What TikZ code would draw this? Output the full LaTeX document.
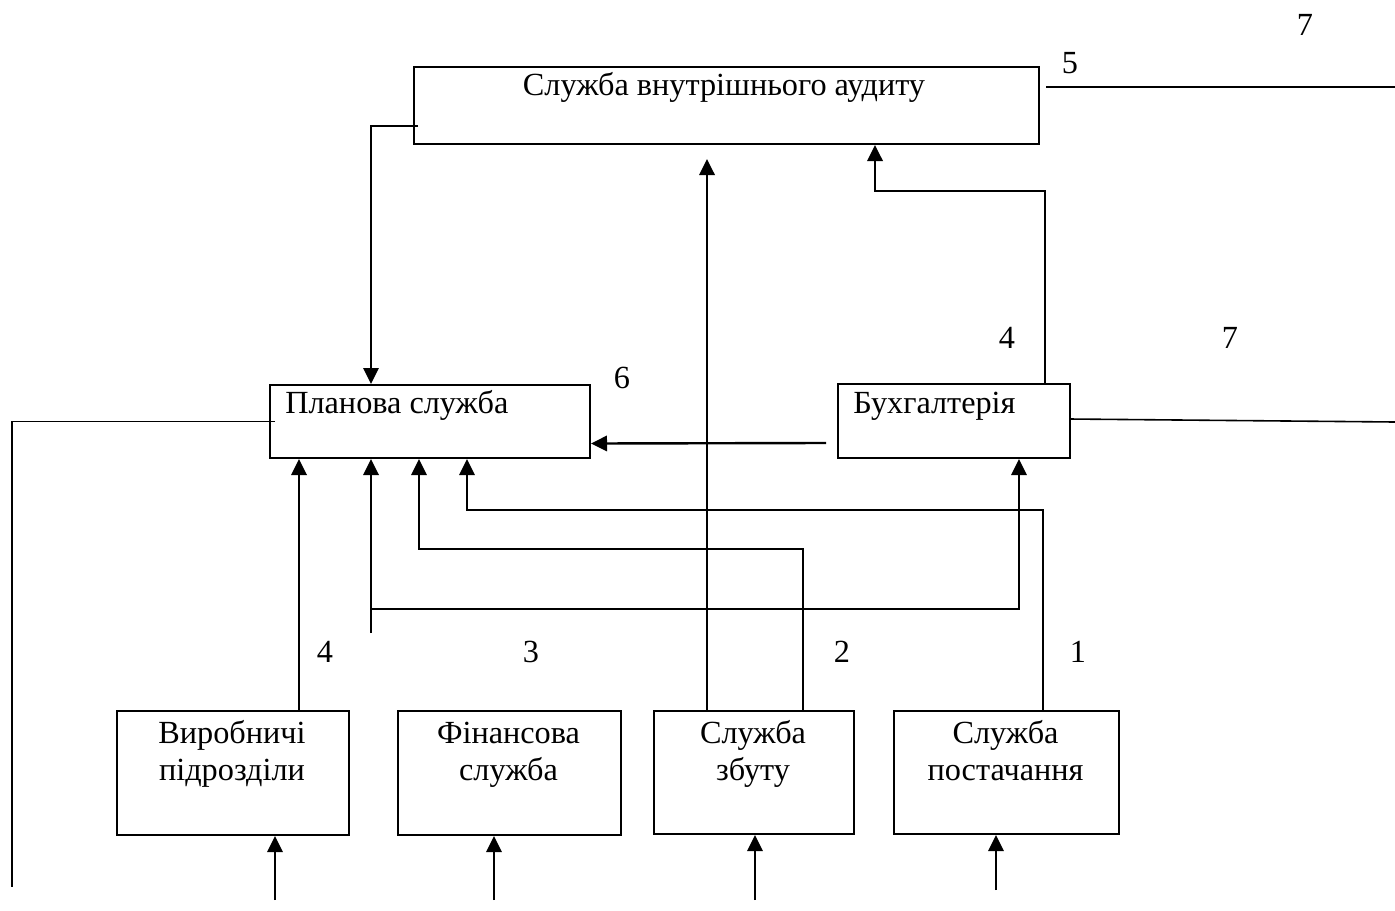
\documentclass[tikz,border=0pt]{standalone}
\usepackage{fontspec}
\setmainfont{Liberation Serif}
\usetikzlibrary{arrows.meta,calc}

\begin{document}
\begin{tikzpicture}[x=0.75pt,y=-0.75pt,
  box/.style={draw, line width=1.5pt, inner sep=0pt, anchor=north west},
  lbl/.style={font=\fontsize{24.2}{28}\selectfont, inner sep=0pt},
  num/.style={font=\fontsize{24.2}{28}\selectfont, inner sep=0pt, anchor=center},
  arr/.style={line width=1.8pt, -{Triangle[length=12pt,width=11.5pt]}},
  arrm/.style={line width=1.5pt, -{Triangle[length=12pt,width=11.5pt]}},
  ln/.style={line width=1.2pt},
]
\useasboundingbox (0,0) rectangle (1395,910);

% free line ends
\coordinate (e5) at (1395,87);
\coordinate (e7) at (1395,422);
\coordinate (cL) at (12,887);
\coordinate (c3) at (371,633);

% boxes
\node[box, minimum width={625*0.75pt}, minimum height={77*0.75pt}] (audit) at (413,66) {};
\node[box, minimum width={320*0.75pt}, minimum height={73*0.75pt}] (plan) at (269,384) {};
\node[box, minimum width={232*0.75pt}, minimum height={74*0.75pt}] (buh) at (837,383) {};
\node[box, minimum width={232*0.75pt}, minimum height={124*0.75pt}] (vyr) at (116,710) {};
\node[box, minimum width={223*0.75pt}, minimum height={124*0.75pt}] (fin) at (397,710) {};
\node[box, minimum width={200*0.75pt}, minimum height={123*0.75pt}] (zbut) at (653,710) {};
\node[box, minimum width={225*0.75pt}, minimum height={123*0.75pt}] (post) at (893,710) {};

% box texts
\newcommand\tallstrut{\vphantom{Фб}}
\node[lbl, anchor=base] (auditT) at (724,95) {Служба внутрішнього аудиту};
\node[lbl, anchor=base west] (planT) at (285,413) {Планова служба};
\node[lbl, anchor=base west] (buhT) at (853,413) {Бухгалтерія};
\node[lbl, align=center, anchor=north] (vyrT) at (232,720) {\tallstrut Виробничі\\підрозділи};
\node[lbl, align=center, anchor=north] (finT) at (508.5,720) {\tallstrut Фінансова\\служба};
\node[lbl, align=center, anchor=north] (zbutT) at (753,720) {\tallstrut Служба\\збуту};
\node[lbl, align=center, anchor=north] (postT) at (1005.5,720) {\tallstrut Служба\\постачання};

% numbers
\node[num] (n7a) at (1305,25) {7};
\node[num] (n5) at (1070,63) {5};
\node[num] (n4a) at (1007,338) {4};
\node[num] (n7b) at (1230,338) {7};
\node[num] (n6) at (622,378) {6};
\node[num] (n4b) at (325,652) {4};
\node[num] (n3) at (531,652) {3};
\node[num] (n2) at (842,652) {2};
\node[num] (n1) at (1078,652) {1};

% connectors
\draw[arrm] ($(audit.south west)+(5,-19)$) -| ($(plan.north west)+(102,0)$);
\draw[ln] ($(audit.north east)+(6,21)$) -- (e5);
\draw[ln] ($(buh.east)+(-2,-2)$) -- (e7);
\draw[arr] ($(buh.north east)+(-26,0)$) |- ($(audit.south west)+(462,46)$) -- ($(audit.south west)+(462,0)$);
\draw[arr] ($(zbut.north west)+(54,0)$) -- ($(audit.south west)+(294,14)$);
\draw[arr] ($(buh.west)+(-11,22)$) -- ($(plan.east)+(0,22)$);
\draw[arr] ($(vyr.north west)+(183,0)$) -- ($(plan.south west)+(30,0)$);
\draw[arr] (c3) -- ($(plan.south west)+(102,0)$);
\draw[arrm] ($(plan.south west)+(102,150)$) -| ($(buh.south west)+(182,0)$);
\draw[arrm] ($(zbut.north west)+(150,0)$) |- ($(plan.south west)+(150,90)$) -- ($(plan.south west)+(150,0)$);
\draw[arrm] ($(post.north west)+(150,0)$) |- ($(plan.south west)+(198,51)$) -- ($(plan.south west)+(198,0)$);
\draw[ln] ($(plan.west)+(6,0)$) -| (cL);

% incoming arrows at the bottom
\coordinate (b1) at (275,900);
\coordinate (b2) at (494,900);
\coordinate (b3) at (755,900);
\coordinate (b4) at (996,890);
\draw[arrm] (b1) -- ($(vyr.south west)+(159,0)$);
\draw[arrm] (b2) -- ($(fin.south west)+(97,0)$);
\draw[arrm] (b3) -- ($(zbut.south west)+(102,0)$);
\draw[arrm] (b4) -- ($(post.south west)+(103,0)$);
\end{tikzpicture}
\end{document}
